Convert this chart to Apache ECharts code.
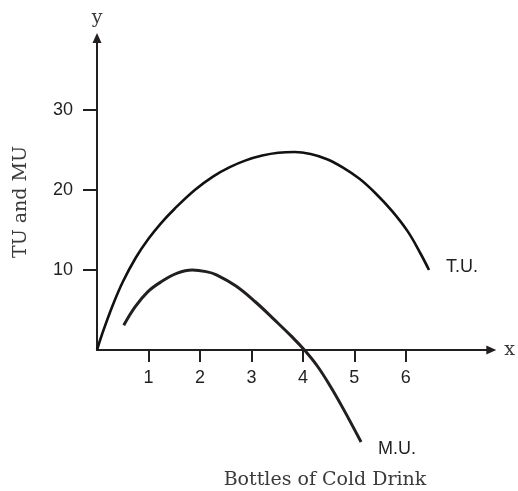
<!DOCTYPE html>
<html>
<head>
<meta charset="utf-8">
<script src="https://cdn.jsdelivr.net/npm/echarts@6/dist/echarts.min.js"></script>
<style>
	html, body {
		margin: 0;
		padding: 0;
		background: #fff;
	}
	#chart {
		width: 518px;
		height: 491px;
	}
</style>
</head>
<body>
<div id="chart"></div>
<script>
	// total utility
	let tuX = [0, 0.1, 0.3, 0.5, 0.75, 1.0, 1.25, 1.5, 1.9, 2.26, 2.58, 2.89, 3.21, 3.52, 3.84, 4.15, 4.47, 4.78, 5.1, 5.41, 5.73, 6.04, 6.29, 6.45];
	let tuY = [0, 2.0, 5.5, 8.5, 11.5, 13.9, 15.9, 17.6, 20.0, 21.7, 22.85, 23.7, 24.3, 24.65, 24.75, 24.5, 23.85, 22.8, 21.4, 19.6, 17.4, 14.8, 12.0, 10];
	// marginal utility
	let muX = [0.52, 0.74, 0.99, 1.24, 1.56, 1.85, 2.12, 2.32, 2.7, 3.08, 3.46, 3.78, 4.03, 4.28, 4.53, 4.78, 5.13];
	let muY = [3.1, 5.4, 7.3, 8.5, 9.6, 10, 9.8, 9.4, 8.0, 6.0, 3.7, 1.7, 0, -2.0, -4.5, -7.3, -11.5];

	let xTicks = [1, 2, 3, 4, 5, 6];
	let yTicks = [10, 20, 30];

	let ink = '#231f20';
	let serif = '"DejaVu Serif", serif';
	let sans = '"Liberation Sans", Arial, sans-serif';

	function pairs(xs, ys) {
		let list = [];
		for (let i = 0; i < xs.length; i++) {
			list.push([xs[i], ys[i]]);
		}
		return list;
	}

	let option = {
		animation: false,
		grid: {
			left: 97,
			right: 16,
			top: 38,
			bottom: 141, // x axis sits on y = 0, M.U. is drawn below it unclipped
			containLabel: false
		},
		xAxis: {
			type: 'value',
			min: 0,
			max: 7.66,
			name: 'x',
			nameLocation: 'end',
			nameGap: 13,
			nameTextStyle: {
				fontFamily: serif,
				fontSize: 19,
				color: '#3a3a3a'
			},
			splitLine: { show: false },
			axisLine: {
				show: true,
				symbol: ['none', 'triangle'],
				symbolSize: [9, 10],
				lineStyle: { color: ink, width: 2 }
			},
			axisTick: {
				show: true,
				length: 12,
				customValues: xTicks,
				lineStyle: { color: ink, width: 2 }
			},
			axisLabel: {
				show: true,
				customValues: xTicks,
				margin: 19,
				color: ink,
				fontFamily: sans,
				fontSize: 18
			}
		},
		yAxis: {
			type: 'value',
			min: 0,
			max: 39,
			name: 'y',
			nameLocation: 'end',
			nameGap: 10,
			nameTextStyle: {
				fontFamily: serif,
				fontSize: 19,
				color: '#3a3a3a'
			},
			splitLine: { show: false },
			axisLine: {
				show: true,
				symbol: ['none', 'triangle'],
				symbolSize: [9, 10],
				lineStyle: { color: ink, width: 2 }
			},
			axisTick: {
				show: true,
				length: 14,
				customValues: yTicks,
				lineStyle: { color: ink, width: 2 }
			},
			axisLabel: {
				show: true,
				customValues: yTicks,
				margin: 24,
				color: ink,
				fontFamily: sans,
				fontSize: 18
			}
		},
		graphic: [{
				type: 'text',
				x: 21,
				y: 202,
				rotation: Math.PI / 2,
				style: {
					text: 'TU and MU',
					fill: '#3a3a3a',
					font: '19px ' + serif,
					textAlign: 'center',
					textVerticalAlign: 'middle'
				}
			},
			{
				type: 'text',
				x: 325,
				y: 480,
				style: {
					text: 'Bottles of Cold Drink',
					fill: '#3a3a3a',
					font: '19px ' + serif,
					textAlign: 'center',
					textVerticalAlign: 'middle'
				}
			}
		],
		series: [{
				name: 'T.U.',
				type: 'line',
				smooth: 0.4,
				showSymbol: false,
				clip: false,
				data: pairs(tuX, tuY),
				lineStyle: { color: '#111', width: 2.6 },
				endLabel: {
					show: true,
					formatter: '{a}',
					offset: [9, -3],
					color: ink,
					fontFamily: sans,
					fontSize: 18
				}
			},
			{
				name: 'M.U.',
				type: 'line',
				smooth: 0.4,
				showSymbol: false,
				clip: false,
				data: pairs(muX, muY),
				lineStyle: { color: ink, width: 3 },
				endLabel: {
					show: true,
					formatter: '{a}',
					offset: [9, 7],
					color: ink,
					fontFamily: sans,
					fontSize: 18
				}
			}
		]
	};

	let chart = echarts.init(document.getElementById('chart'));
	chart.setOption(option);
	window.addEventListener('resize', function () {
		chart.resize();
	});
</script>
</body>
</html>
